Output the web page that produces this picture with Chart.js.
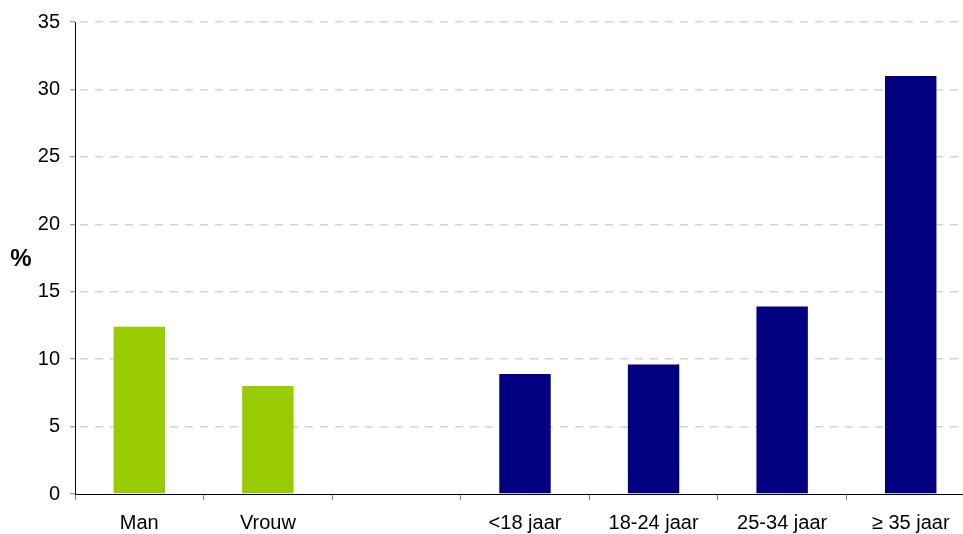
<!DOCTYPE html>
<html>
<head>
<meta charset="utf-8">
<script src="https://cdn.jsdelivr.net/npm/chart.js@4.4.1/dist/chart.umd.min.js"></script>
<style>
  html, body { margin: 0; padding: 0; background: #fff; overflow: hidden; }
  #wrap { position: absolute; left: 0; top: 0; width: 990px; height: 534px; }
</style>
</head>
<body>
<div id="wrap"><canvas id="c"></canvas></div>
<script>
// ---- data ----
const categories = ["Man", "Vrouw", "", "<18 jaar", "18-24 jaar", "25-34 jaar", "\u2265 35 jaar"];
const values = [12.4, 8.0, null, 8.9, 9.6, 13.9, 31.0];
const groups = ["geslacht", "geslacht", null, "leeftijd", "leeftijd", "leeftijd", "leeftijd"];
const yTicks = [0, 5, 10, 15, 20, 25, 30, 35];
const yAxisLabel = "%";

// ---- styles ----
const groupColors = { geslacht: "#99CC00", leeftijd: "#000080" };
const FONT = "'Liberation Sans', Arial, sans-serif";

const percentLabel = {
  id: "percentLabel",
  afterDraw(chart) {
    const ctx = chart.ctx;
    ctx.save();
    ctx.font = "bold 24px " + FONT;
    ctx.fillStyle = "#000";
    ctx.textAlign = "center";
    ctx.textBaseline = "middle";
    ctx.fillText(yAxisLabel, 21, 259);
    ctx.restore();
  }
};

new Chart(document.getElementById("c"), {
  type: "bar",
  data: {
    labels: categories,
    datasets: [{
      data: values,
      backgroundColor: groups.map(g => g ? groupColors[g] : "transparent"),
      borderWidth: 0,
      categoryPercentage: 1,
      barPercentage: 0.4
    }]
  },
  options: {
    responsive: true,
    maintainAspectRatio: false,
    animation: false,
    layout: { padding: { left: 0, top: 21, right: 15, bottom: 0 } },
    plugins: { legend: { display: false }, tooltip: { enabled: false } },
    scales: {
      x: {
        afterFit: s => { s.height = 40; },
        grid: { drawOnChartArea: false, drawTicks: true, tickLength: 6, tickColor: "#808080", offset: true },
        border: { color: "#000", width: 1 },
        ticks: { color: "#000", font: { family: FONT, size: 20 }, padding: 11, maxRotation: 0, autoSkip: false }
      },
      y: {
        min: 0, max: 35,
        afterFit: s => { s.width = 75; },
        afterBuildTicks: s => { s.ticks = yTicks.map(v => ({ value: v })); },
        grid: {
          color: c => (c.tick && c.tick.value === 0) ? "rgba(0,0,0,0)" : "#d4d4d4",
          lineWidth: 1.5, tickLength: 5, tickColor: "#808080", tickWidth: 1, drawTicks: true
        },
        border: { color: "#000", width: 1, dash: [8, 7], dashOffset: -4 },
        ticks: { color: "#000", font: { family: FONT, size: 20 }, padding: 10 }
      }
    }
  },
  plugins: [percentLabel]
});
</script>
</body>
</html>
